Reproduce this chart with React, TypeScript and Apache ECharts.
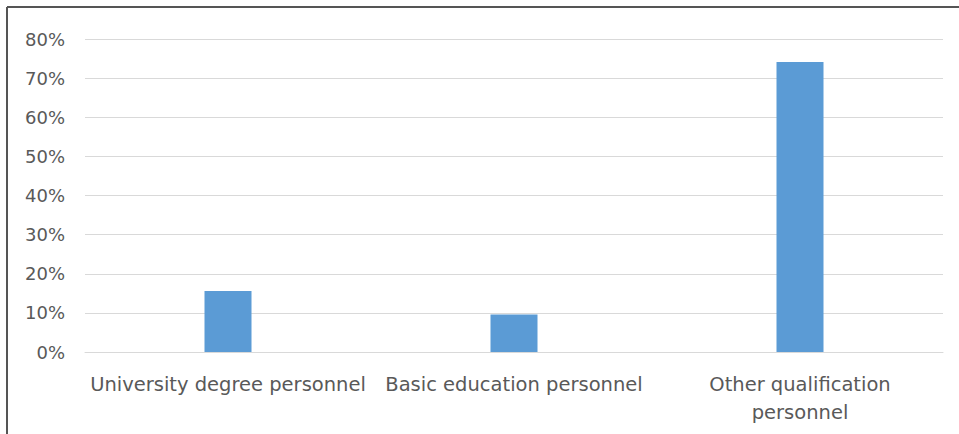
import React, { useEffect, useRef } from "react";
import * as echarts from "echarts";

const categories = [
  "University degree personnel",
  "Basic education personnel",
  "Other qualification\npersonnel",
];
const shares = [15.6, 9.6, 74.1];
const yMin = 0;
const yMax = 80;
const yStep = 10;

export default function App() {
  const ref = useRef<HTMLDivElement>(null);
  useEffect(() => {
    document.body.style.margin = "0";
    const chart = echarts.init(ref.current!, null, { renderer: "svg" });
    chart.setOption({
      animation: false,
      backgroundColor: "#ffffff",
      grid: { left: 85, right: 16, top: 39, bottom: 82, containLabel: false },
      xAxis: {
        type: "category",
        data: categories,
        axisLine: { show: true, lineStyle: { color: "#d9d9d9", width: 1 } },
        axisTick: { show: false },
        axisLabel: {
          interval: 0,
          color: "#595959",
          fontFamily: "DejaVu Sans",
          fontSize: 19.5,
          lineHeight: 28,
          margin: 18,
        },
      },
      yAxis: {
        type: "value",
        min: yMin,
        max: yMax,
        interval: yStep,
        axisLine: { show: false },
        axisTick: { show: false },
        splitLine: { lineStyle: { color: "#d9d9d9", width: 1 } },
        axisLabel: {
          formatter: "{value}%",
          color: "#595959",
          fontFamily: "DejaVu Sans",
          fontSize: 18,
          margin: 20,
        },
      },
      series: [
        {
          type: "bar",
          data: shares,
          barWidth: 47,
          itemStyle: { color: "#5b9bd5" },
        },
      ],
      graphic: [
        {
          type: "line",
          shape: { x1: 7, y1: 7, x2: 959, y2: 7 },
          style: { stroke: "#555555", lineWidth: 2 },
        },
        {
          type: "line",
          shape: { x1: 7, y1: 7, x2: 7, y2: 434 },
          style: { stroke: "#555555", lineWidth: 2 },
        },
      ],
    });
    return () => chart.dispose();
  }, []);
  return <div ref={ref} style={{ width: 959, height: 434 }} />;
}
